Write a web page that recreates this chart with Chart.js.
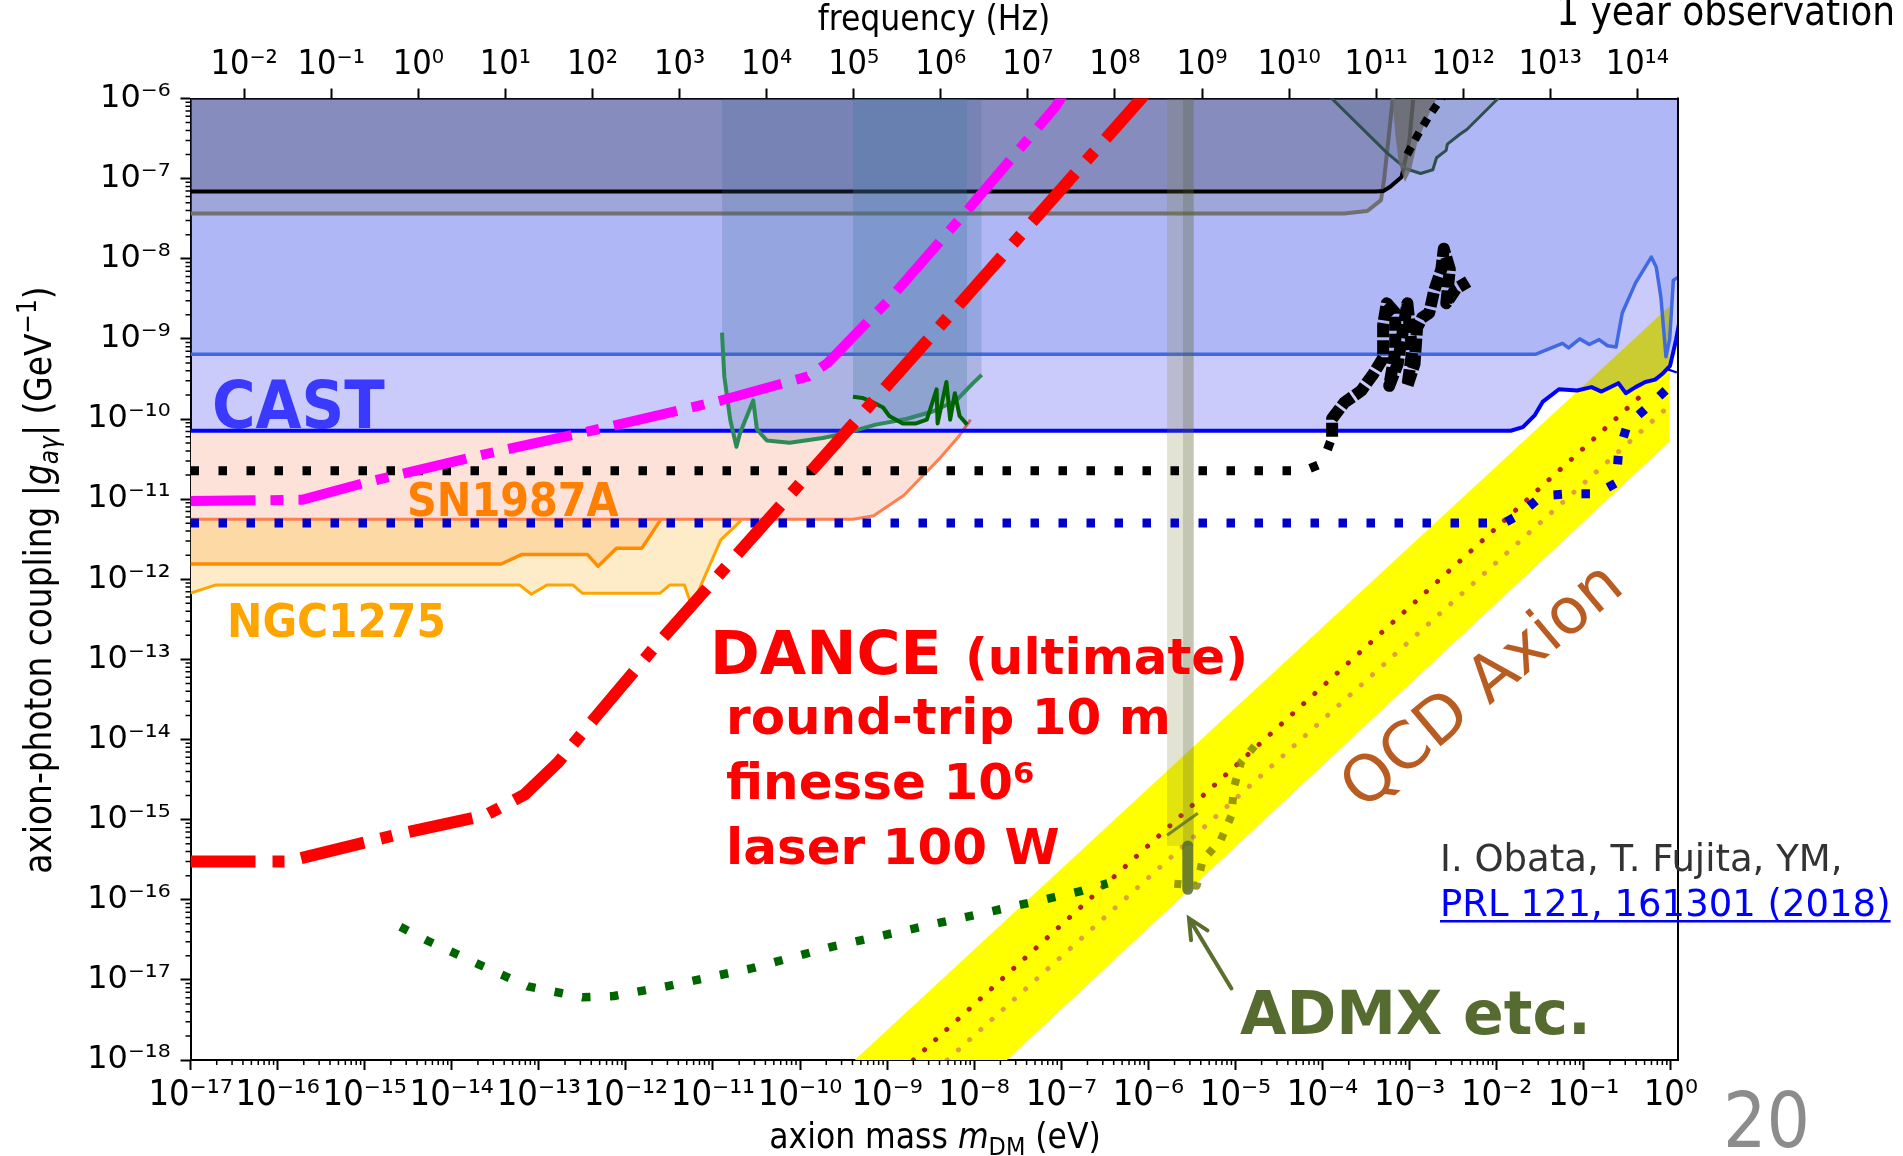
<!DOCTYPE html>
<html>
<head>
<meta charset="utf-8">
<script src="https://cdn.jsdelivr.net/npm/chart.js"></script>
<style>
html, body { margin: 0; padding: 0; background: #fff; }
</style>
</head>
<body>
<canvas id="c" width="1903" height="1156"></canvas>
<script>
// axis ticks
const FREQ_PER_EV = 2.418e14;
const massTicks = [1e-17, 1e-16, 1e-15, 1e-14, 1e-13, 1e-12, 1e-11, 1e-10, 1e-9, 1e-8, 1e-7, 1e-6, 1e-5, 1e-4, 1e-3, 1e-2, 1e-1, 1e0];
const freqTicks = [1e-2, 1e-1, 1e0, 1e1, 1e2, 1e3, 1e4, 1e5, 1e6, 1e7, 1e8, 1e9, 1e10, 1e11, 1e12, 1e13, 1e14];
const couplingTicks = [1e-18, 1e-17, 1e-16, 1e-15, 1e-14, 1e-13, 1e-12, 1e-11, 1e-10, 1e-9, 1e-8, 1e-7, 1e-6];
const massMax = 1.21;

// excluded regions (solid lines, filled above)
const ngcLightM = [1e-17, 1.96e-17, 6.0e-14, 8.2e-14, 1.25e-13, 2.45e-13, 3.16e-13, 2.47e-12, 3.2e-12, 4.7e-12, 5.7e-12, 1.23e-11, 2.1e-11];
const ngcLightG = [6.7e-13, 8.5e-13, 8.5e-13, 6.5e-13, 8.5e-13, 8.5e-13, 6.7e-13, 6.7e-13, 8.5e-13, 8.5e-13, 4.6e-13, 3.1e-12, 5.4e-12];
const ngcDarkM = [1e-17, 3.7e-14, 6.4e-14, 3.6e-13, 4.8e-13, 7.8e-13, 1.52e-12, 3.0e-12, 9.8e-12];
const ngcDarkG = [1.55e-12, 1.55e-12, 2.04e-12, 2.04e-12, 1.45e-12, 2.43e-12, 2.43e-12, 7.4e-12, 1.26e-11];
const snM = [1e-17, 4.06e-10, 7.0e-10, 1.56e-9, 2.5e-9, 4.1e-9, 6.6e-9, 9.1e-9];
const snG = [5.6e-12, 5.6e-12, 6.2e-12, 1.12e-11, 1.9e-11, 3.3e-11, 6.0e-11, 9.8e-11];
const castM = [1e-17, 1.45e-2, 2.0e-2, 2.75e-2, 3.4e-2, 5.2e-2, 8.4e-2, 0.123, 0.16, 0.25, 0.304, 0.394, 0.51, 0.66, 0.81, 0.98, 1.15, 1.25];
const castG = [7.14e-11, 7.14e-11, 7.9e-11, 1.12e-10, 1.65e-10, 2.35e-10, 2.27e-10, 2.5e-10, 2.2e-10, 2.8e-10, 2.1e-10, 2.5e-10, 2.9e-10, 3.1e-10, 3.7e-10, 4.6e-10, 9.8e-10, 1.6e-9];
const royalM = [1e-17, 2.83e-2, 5.7e-2, 6.7e-2, 9.0e-2, 0.116, 0.15, 0.188, 0.235, 0.277, 0.394, 0.597, 0.68, 0.77, 0.88, 0.97, 1.07, 1.25];
const royalG = [6.43e-10, 6.43e-10, 8.8e-10, 7.7e-10, 1.0e-9, 8.5e-10, 9.8e-10, 8.2e-10, 7.9e-10, 2.1e-9, 5.0e-9, 1.05e-8, 7.9e-9, 3.3e-9, 6.0e-10, 9.8e-10, 5.4e-9, 6e-9];
const grayM = [1e-17, 1.78e-4, 3.27e-4, 4.7e-4, 5.1e-4, 5.6e-4, 6.4e-4, 6.6e-4];
const grayG = [3.67e-8, 3.67e-8, 3.94e-8, 5.4e-8, 9.8e-8, 2.5e-7, 9.8e-7, 1.3e-6];
const blackM = [1e-17, 4.1e-4, 5.0e-4, 6.0e-4, 8.1e-4, 9.3e-4, 1.0e-3, 1.1e-3, 1.15e-3];
const blackG = [6.9e-8, 6.9e-8, 7.0e-8, 7.9e-8, 1.05e-7, 2.1e-7, 3.1e-7, 9.8e-7, 1.3e-6];
const vShapeM = [1.0e-4, 5.5e-4, 9.1e-4, 1.34e-3, 1.85e-3, 2.04e-3, 2.63e-3, 2.72e-3, 3.75e-3, 4.55e-3, 1.01e-2, 1.23e-2];
const vShapeG = [1.3e-6, 2.1e-7, 1.33e-7, 1.16e-7, 1.29e-7, 1.82e-7, 2.25e-7, 2.7e-7, 3.55e-7, 4.1e-7, 9.7e-7, 1.3e-6];
const grayBlobM = [6.2e-4, 6.85e-4, 7.55e-4, 8.86e-4, 1.04e-3, 1.22e-3, 1.58e-3, 2.3e-3];
const grayBlobG = [1.3e-6, 3.66e-7, 1.53e-7, 9.1e-8, 1.29e-7, 2.77e-7, 5.6e-7, 1.3e-6];
const seaM = [1.27e-11, 1.35e-11, 1.58e-11, 1.86e-11, 2.05e-11, 2.9e-11, 3.2e-11, 4.15e-11, 7.6e-11, 1.82e-10, 3.45e-10, 7.4e-10, 1.66e-9, 3.4e-9, 6.2e-9, 9.7e-9, 1.22e-8];
const seaG = [1.2e-9, 3.4e-10, 9.8e-11, 4.5e-11, 6.7e-11, 1.7e-10, 7.4e-11, 5.4e-11, 5.05e-11, 5.8e-11, 6.7e-11, 8.5e-11, 1.0e-10, 1.25e-10, 1.7e-10, 2.8e-10, 3.55e-10];
const darkGreenM = [4.06e-10, 5.2e-10, 6.6e-10, 9.0e-10, 1.06e-9, 1.51e-9, 2.15e-9, 2.86e-9, 3.7e-9, 3.8e-9, 4.8e-9, 5.3e-9, 6.0e-9, 6.8e-9, 8.3e-9];
const darkGreenG = [1.9e-10, 1.83e-10, 1.65e-10, 1.39e-10, 1.09e-10, 8.8e-11, 8.8e-11, 9.8e-11, 2.34e-10, 8.8e-11, 2.9e-10, 9.8e-11, 2.1e-10, 1.09e-10, 8.5e-11];
const admxBandM = [1.64e-6, 3.33e-6];
const admxStripM = [2.5e-6, 3.33e-6];
const admxBandTop = [2e-6, 2e-6];
const admxBandBottom = 4.7e-16;

// QCD axion band and model lines
const qcdUpperM = [4.3e-11, 0.97];
const qcdUpperG = [1e-19, 2.57e-9];
const qcdLowerM = [4.3e-11, 0.97];
const qcdLowerG = [1.65e-21, 5.25e-11];
const ksvzM = [2.0e-9, 0.56];
const ksvzG = [1e-18, 2.4e-10];
const dfszM = [4.9e-9, 0.88];
const dfszG = [1e-18, 1.34e-10];

// sensitivity curves
const danceM = [1e-17, 1.3e-16, 2.34e-15, 2.43e-14, 6.8e-14, 1.67e-13, 4.37e-13, 2.1e-12, 6.0e-9, 8.1e-7, 1.12e-6];
const danceG = [3.0e-16, 3.0e-16, 6.5e-16, 1.13e-15, 2.04e-15, 5.2e-15, 1.84e-14, 1.39e-13, 2.33e-9, 9.7e-7, 1.48e-6];
const magentaM = [1e-17, 1.9e-16, 1.12e-15, 3.2e-14, 5.5e-13, 1.23e-11, 1.24e-10, 2.07e-10, 1.06e-9, 9.1e-9, 8.6e-8, 1.19e-7];
const magentaG = [9.5e-12, 9.8e-12, 1.65e-11, 3.9e-11, 7.7e-11, 1.7e-10, 3.4e-10, 5.0e-10, 3.1e-9, 4.5e-8, 7.9e-7, 1.38e-6];
const blackDotM = [1e-17, 6.2e-5, 1.0e-4, 1.29e-4];
const blackDotG = [2.26e-11, 2.26e-11, 2.8e-11, 6.0e-11];
const blackNoisyM = [1.29e-4, 1.29e-4, 1.78e-4, 2.79e-4, 3.85e-4, 4.97e-4, 4.97e-4, 5.47e-4, 6.85e-4, 6.85e-4, 5.84e-4, 7.3e-4, 8.86e-4, 9.44e-4, 1.07e-3, 9.44e-4, 1.14e-3, 1.22e-3, 1.39e-3, 1.68e-3, 1.91e-3, 2.32e-3, 2.47e-3, 2.9e-3, 2.64e-3, 3.4e-3, 4.7e-3];
const blackNoisyG = [6.0e-11, 1.01e-10, 1.6e-10, 2.26e-10, 3.68e-10, 5.8e-10, 1.49e-9, 2.78e-9, 2.1e-9, 6.9e-10, 2.6e-10, 4.86e-10, 1.83e-9, 2.78e-9, 6.9e-10, 2.6e-10, 4.86e-10, 1.38e-9, 1.83e-9, 2.1e-9, 3.94e-9, 7.4e-9, 1.33e-8, 7.4e-9, 2.78e-9, 4.2e-9, 5.2e-9];
const blackDotTopM = [9.4e-4, 1.22e-3, 1.68e-3, 2.47e-3];
const blackDotTopG = [2.0e-7, 3.4e-7, 6.1e-7, 1.1e-6];
const blueDotM = [1e-17, 1.23e-2, 1.86e-2, 3.3e-2, 7.0e-2, 0.141, 0.236, 0.25, 0.316, 0.54, 0.88, 1.06];
const blueDotG = [5.05e-12, 5.05e-12, 6.5e-12, 1.1e-11, 1.17e-11, 1.17e-11, 1.6e-11, 3.6e-11, 8.5e-11, 1.4e-10, 2.3e-10, 4.1e-10];
const greenDotM = [2.57e-15, 5.2e-15, 2.07e-14, 7.5e-14, 3.16e-13, 7.3e-13, 2.9e-12, 2.83e-11, 2.35e-10, 2.08e-9, 1.9e-8, 1.58e-7, 3.4e-7];
const greenDotG = [4.6e-17, 3.1e-17, 1.55e-17, 8.3e-18, 6.05e-18, 6.3e-18, 8.3e-18, 1.4e-17, 2.6e-17, 4.4e-17, 7.5e-17, 1.26e-16, 1.6e-16];
const admxDotM = [1.66e-5, 1.16e-5, 9.6e-6, 9.0e-6, 6.8e-6, 4.2e-6, 3.6e-6, 1.8e-6];
const admxDotG = [8.3e-15, 5.2e-15, 2.5e-15, 1.12e-15, 5.6e-16, 3.1e-16, 1.5e-16, 1.6e-16];
const admxSegM = [1.64e-6, 3.7e-6];
const admxSegG = [6.4e-16, 1.2e-15];
const admxBlobM = [2.84e-6, 2.84e-6];
const admxBlobG = [4.7e-16, 1.35e-16];
const arrowTail = [9.0e-6, 7.8e-18];
const arrowTip = [2.93e-6, 5.85e-17];

function hasFont(name) {
    const c = document.createElement('canvas').getContext('2d');
    const s = 'abcdefghijklmnopqrstuvwxyz0123456789';
    c.font = '40px monospace'; const a = c.measureText(s).width;
    c.font = '40px "' + name + '", monospace'; const b = c.measureText(s).width;
    c.font = '40px serif'; const a2 = c.measureText(s).width;
    c.font = '40px "' + name + '", serif'; const b2 = c.measureText(s).width;
    return a !== b || a2 !== b2;
}
const COND = ['DejaVu Sans Condensed', 'Liberation Sans Narrow', 'DejaVu Sans'].find(hasFont) || 'DejaVu Sans';

const SUP = {'-': '⁻', '0': '⁰', '1': '¹', '2': '²', '3': '³', '4': '⁴', '5': '⁵', '6': '⁶', '7': '⁷', '8': '⁸', '9': '⁹'};
function powLabel(v) {
    const e = String(Math.round(Math.log10(v)));
    return '10' + e.split('').map(ch => SUP[ch]).join('');
}

function pts(ms, gs) {
    return ms.map((m, i) => ({x: m, y: gs[i]}));
}
function curve(ms, gs, opt) {
    return Object.assign({
        data: pts(ms, gs), showLine: true, pointRadius: 0, borderWidth: 3,
        tension: 0, clip: 0, fill: false, borderColor: '#000', borderJoinStyle: 'round'
    }, opt);
}

const clear = 'rgba(0,0,0,0)';
// back to front
const datasets = [
    curve(ngcLightM, ngcLightG, {borderColor: '#ffa500', borderWidth: 3, fill: {target: 2, below: '#feecc8', above: clear}}),
    curve(ngcDarkM, ngcDarkG, {borderColor: '#ff8c00', borderWidth: 3.5, fill: {target: 2, below: '#fdd9a5', above: clear}}),
    curve(snM, snG, {borderColor: '#ff7f50', borderWidth: 3, fill: {target: 7, below: '#fde2da', above: clear}}),
    curve(qcdLowerM, qcdLowerG, {borderWidth: 0}),
    curve(qcdUpperM, qcdUpperG, {borderWidth: 0, fill: {target: 3, above: '#ffff00', below: '#ffff00'}}),
    curve(ksvzM, ksvzG, {borderColor: '#b22222', borderWidth: 5, borderDash: [0.1, 15], borderCapStyle: 'round'}),
    curve(dfszM, dfszG, {borderColor: '#e0a040', borderWidth: 5, borderDash: [0.1, 15], borderCapStyle: 'round'}),
    curve(castM, castG, {borderColor: '#0000ff', borderWidth: 4, fill: 'end', backgroundColor: 'rgba(10,10,235,0.21)'}),
    curve(royalM, royalG, {borderColor: '#4169e1', borderWidth: 3.5, fill: 'end', backgroundColor: 'rgba(65,105,225,0.2)'}),
    curve(grayM, grayG, {borderColor: '#707070', borderWidth: 4, fill: 'end', backgroundColor: 'rgba(112,120,137,0.25)'}),
    curve(blackM, blackG, {borderColor: '#000000', borderWidth: 4, fill: 'end', backgroundColor: 'rgba(70,68,118,0.27)'}),
    curve(vShapeM, vShapeG, {borderColor: '#2f4f4f', borderWidth: 3, fill: 'end', backgroundColor: 'rgba(47,79,79,0.15)'}),
    curve(grayBlobM, grayBlobG, {borderWidth: 0, fill: 'end', backgroundColor: 'rgba(105,105,105,0.8)'}),
    curve(seaM, seaG, {borderColor: '#2e8b57', borderWidth: 4, fill: 'end', backgroundColor: 'rgba(60,100,140,0.22)'}),
    curve(darkGreenM, darkGreenG, {borderColor: '#006400', borderWidth: 4, fill: 'end', backgroundColor: 'rgba(70,120,160,0.28)'}),
    curve(admxBandM, admxBandTop, {borderWidth: 0, fill: {value: admxBandBottom}, backgroundColor: 'rgba(128,128,60,0.22)'}),
    curve(admxStripM, admxBandTop, {borderWidth: 0, fill: {value: admxBandBottom}, backgroundColor: 'rgba(70,80,50,0.2)'}),
    curve(blackDotM, blackDotG, {borderColor: '#000000', borderWidth: 9, borderDash: [8.5, 19.5]}),
    curve(blackNoisyM, blackNoisyG, {borderColor: '#000000', borderWidth: 12, borderDash: [14, 3]}),
    curve(blackDotTopM, blackDotTopG, {borderColor: '#000000', borderWidth: 8, borderDash: [8.5, 8]}),
    curve(blueDotM, blueDotG, {borderColor: '#0000cd', borderWidth: 9, borderDash: [8.5, 19.5]}),
    curve(greenDotM, greenDotG, {borderColor: '#006400', borderWidth: 8.5, borderDash: [8.5, 19.5]}),
    curve(admxDotM, admxDotG, {borderColor: 'rgba(128,128,0,0.8)', borderWidth: 8, borderDash: [7, 12]}),
    curve(admxSegM, admxSegG, {borderColor: 'rgba(90,110,46,0.8)', borderWidth: 3}),
    curve(admxBlobM, admxBlobG, {borderColor: 'rgba(85,107,47,0.85)', borderWidth: 11, borderCapStyle: 'round'}),
    curve(magentaM, magentaG, {borderColor: '#ff00ff', borderWidth: 10, borderDash: [65, 15, 13, 15]}),
    curve(danceM, danceG, {borderColor: '#ff0000', borderWidth: 12, borderDash: [65, 17, 12, 17]})
];
datasets.forEach((d, i) => { d.order = datasets.length - i; });

function rich(ctx, parts, x, y, rot) {
    ctx.save();
    ctx.translate(x, y);
    ctx.rotate(rot);
    let w = 0;
    parts.forEach(p => { ctx.font = p.f; p.w = ctx.measureText(p.t).width; w += p.w; });
    let cx = -w / 2;
    parts.forEach(p => { ctx.font = p.f; ctx.fillText(p.t, cx, p.dy || 0); cx += p.w; });
    ctx.restore();
}

function label(ctx, s, x, y, font, color, align) {
    ctx.font = font;
    ctx.fillStyle = color;
    ctx.textAlign = align || 'left';
    ctx.fillText(s, x, y);
}

const decor = {
    id: 'decor',
    afterDraw(chart) {
        const ctx = chart.ctx;
        const a = chart.chartArea;
        const xs = chart.scales.x, ys = chart.scales.y;
        ctx.save();
        ctx.strokeStyle = '#000';
        ctx.lineWidth = 2;
        ctx.beginPath();
        ctx.moveTo(a.right, a.top - 1);
        ctx.lineTo(a.right, a.bottom + 1);
        ctx.stroke();

        // minor ticks
        ctx.lineWidth = 1.5;
        ctx.beginPath();
        massTicks.forEach(d => {
            for (let k = 2; k < 10; k++) {
                const v = d * k;
                if (v > massMax) continue;
                const px = xs.getPixelForValue(v);
                ctx.moveTo(px, a.bottom); ctx.lineTo(px, a.bottom + 5);
            }
        });
        couplingTicks.slice(0, -1).forEach(d => {
            for (let k = 2; k < 10; k++) {
                const py = ys.getPixelForValue(d * k);
                ctx.moveTo(a.left, py); ctx.lineTo(a.left - 5, py);
            }
        });
        ctx.stroke();

        // axis titles
        ctx.fillStyle = '#000';
        ctx.textBaseline = 'alphabetic';
        ctx.textAlign = 'left';
        const T = 35, f = '"' + COND + '"';
        const TY = 36.5;
        rich(ctx, [
            {t: 'axion-photon coupling |', f: TY + 'px ' + f},
            {t: 'g', f: 'italic ' + TY + 'px ' + f},
            {t: 'aγ', f: 'italic ' + Math.round(TY * 0.7) + 'px ' + f, dy: TY * 0.2},
            {t: '| (GeV', f: TY + 'px ' + f},
            {t: '−1', f: Math.round(TY * 0.7) + 'px ' + f, dy: -TY * 0.42},
            {t: ')', f: TY + 'px ' + f}
        ], 51, 580, -Math.PI / 2);
        rich(ctx, [
            {t: 'axion mass ', f: T + 'px ' + f},
            {t: 'm', f: 'italic ' + T + 'px ' + f},
            {t: 'DM', f: Math.round(T * 0.7) + 'px ' + f, dy: T * 0.2},
            {t: ' (eV)', f: T + 'px ' + f}
        ], 935, 1148, 0);
        label(ctx, 'frequency (Hz)', 934, 30, T + 'px ' + f, '#000', 'center');
        label(ctx, '1 year observation', 1895, 25, '40px ' + f, '#000', 'right');
        label(ctx, '20', 1723, 1147, '76px ' + f, '#8c8c8c', 'left');

        // figure labels
        label(ctx, 'CAST', 212, 428, 'bold 66px ' + f, '#3a3aff');
        label(ctx, 'SN1987A', 407, 516, 'bold 46px ' + f, '#ff8000');
        label(ctx, 'NGC1275', 227, 637, 'bold 47px ' + f, '#ffa500');

        const dv = '"DejaVu Sans"';
        label(ctx, 'DANCE', 710, 674, 'bold 60px ' + dv, '#ff0000');
        label(ctx, '(ultimate)', 965, 674, 'bold 50px ' + dv, '#ff0000');
        label(ctx, 'round-trip 10 m', 726, 734, 'bold 50px ' + dv, '#ff0000');
        label(ctx, 'finesse 10⁶', 726, 799, 'bold 50px ' + dv, '#ff0000');
        label(ctx, 'laser 100 W', 726, 864, 'bold 50px ' + dv, '#ff0000');
        label(ctx, 'ADMX etc.', 1240, 1034, 'bold 60px ' + dv, '#556b2f');
        label(ctx, 'I. Obata, T. Fujita, YM,', 1440, 871, '37px ' + dv, '#333333');
        label(ctx, 'PRL 121, 161301 (2018)', 1440, 916, '37px ' + dv, '#0000ff');
        ctx.font = '37px ' + dv;
        const pw = ctx.measureText('PRL 121, 161301 (2018)').width;
        ctx.fillRect(1440, 920, pw, 2.5);

        ctx.save();
        ctx.translate(1484, 688);
        ctx.rotate(-40 * Math.PI / 180);
        ctx.textBaseline = 'middle';
        label(ctx, 'QCD Axion', 0, 0, '64px ' + dv, '#b95c22', 'center');
        ctx.restore();

        // arrow to ADMX
        const tx = xs.getPixelForValue(arrowTip[0]), ty = ys.getPixelForValue(arrowTip[1]);
        const sx = xs.getPixelForValue(arrowTail[0]), sy = ys.getPixelForValue(arrowTail[1]);
        const ang = Math.atan2(ty - sy, tx - sx);
        ctx.strokeStyle = '#5a6e2e';
        ctx.lineWidth = 4;
        ctx.lineCap = 'round';
        ctx.beginPath();
        ctx.moveTo(sx, sy); ctx.lineTo(tx, ty);
        ctx.moveTo(tx - 22 * Math.cos(ang - 0.45), ty - 22 * Math.sin(ang - 0.45));
        ctx.lineTo(tx, ty);
        ctx.lineTo(tx - 22 * Math.cos(ang + 0.45), ty - 22 * Math.sin(ang + 0.45));
        ctx.stroke();
        ctx.restore();
    }
};

new Chart(document.getElementById('c'), {
    type: 'scatter',
    data: {datasets: datasets},
    options: {
        responsive: false,
        animation: false,
        events: [],
        layout: {padding: {left: 0, right: 225, top: 0, bottom: 0}},
        plugins: {legend: {display: false}, tooltip: {enabled: false}},
        scales: {
            x: {
                type: 'logarithmic', position: 'bottom', min: 1e-17, max: massMax,
                afterBuildTicks: s => { s.ticks = massTicks.map(v => ({value: v})); },
                afterFit: s => { s.height = 96; },
                ticks: {callback: v => powLabel(v), autoSkip: false, maxRotation: 0, minRotation: 0, padding: 4, color: '#000', font: {family: '"' + COND + '"', size: 36}},
                grid: {drawOnChartArea: false, tickLength: 10, tickWidth: 2, tickColor: '#000'},
                border: {color: '#000', width: 2}
            },
            x2: {
                type: 'logarithmic', position: 'top', min: 1e-17 * FREQ_PER_EV, max: massMax * FREQ_PER_EV,
                afterBuildTicks: s => { s.ticks = freqTicks.map(v => ({value: v})); },
                afterFit: s => { s.height = 98.5; },
                ticks: {callback: v => powLabel(v), autoSkip: false, maxRotation: 0, minRotation: 0, padding: 3, color: '#000', font: {family: '"' + COND + '"', size: 34}},
                grid: {drawOnChartArea: false, tickLength: 10, tickWidth: 2, tickColor: '#000'},
                border: {color: '#000', width: 2}
            },
            y: {
                type: 'logarithmic', position: 'left', min: 1e-18, max: 1e-6,
                afterBuildTicks: s => { s.ticks = couplingTicks.map(v => ({value: v})); },
                afterFit: s => { s.width = 190.5; },
                ticks: {callback: v => powLabel(v), autoSkip: false, padding: 10, color: '#000', font: {family: '"DejaVu Sans"', size: 32}},
                grid: {drawOnChartArea: false, tickLength: 10, tickWidth: 2, tickColor: '#000'},
                border: {color: '#000', width: 2}
            }
        }
    },
    plugins: [decor]
});
</script>
</body>
</html>
